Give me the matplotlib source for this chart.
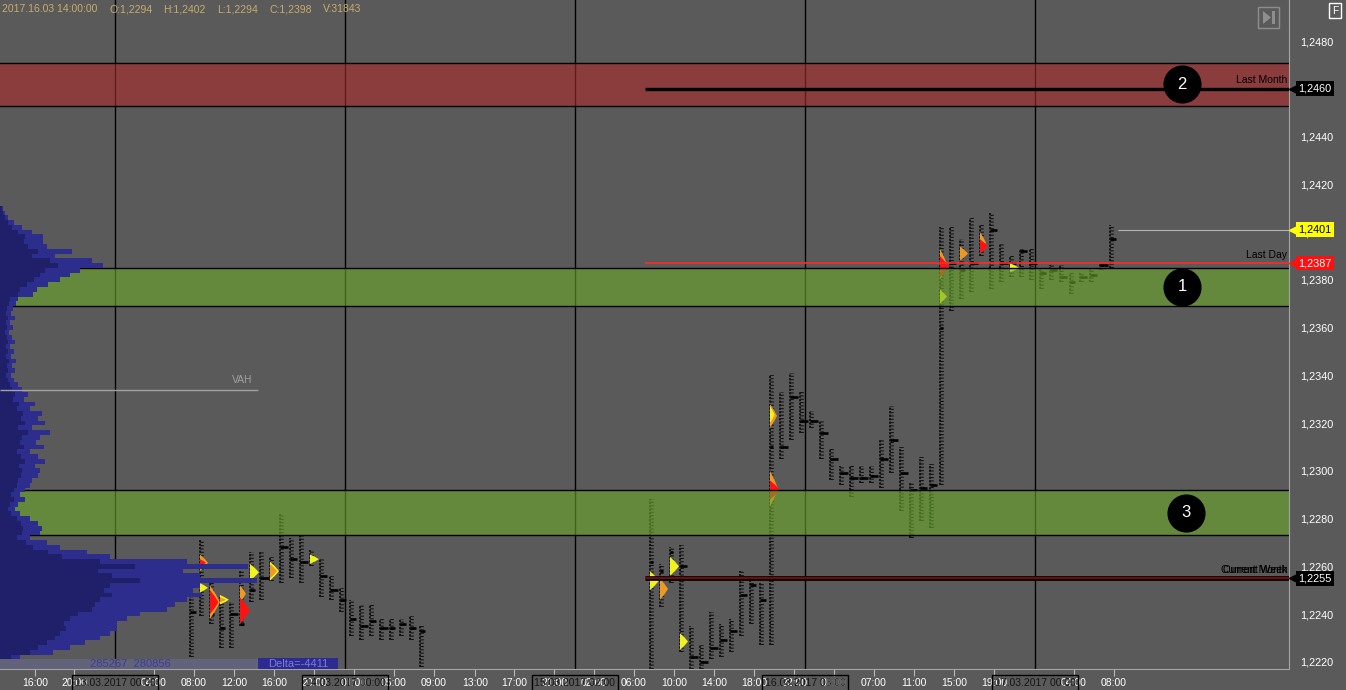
import numpy as np
import matplotlib
matplotlib.use("Agg")
import matplotlib.pyplot as plt
import matplotlib.transforms as mtransforms
from matplotlib.patches import Polygon, Rectangle
from matplotlib.ticker import FuncFormatter

plt.rcParams['font.family'] = ['Liberation Sans', 'DejaVu Sans']

W, H = 1346, 690
BG = '#5a5a5a'

# ---------------- data ----------------
header_items = ['2017.16.03 14:00:00', 'O:1,2294', 'H:1,2402', 'L:1,2294', 'C:1,2398', 'V:31843']

price_ticks = [1.2220, 1.2240, 1.2260, 1.2280, 1.2300, 1.2320, 1.2340,
               1.2360, 1.2380, 1.2400, 1.2420, 1.2440, 1.2460, 1.2480]

time_pos = [3.5, 7.4, 15.4, 19.4, 23.4, 27.4, 31.4, 35.4, 39.4, 43.4, 47.5, 51.4, 55.4,
            59.4, 63.4, 67.4, 71.4, 75.4, 79.4, 83.4, 87.4, 91.4, 95.4, 99.4, 107.4, 111.4]
time_lbl = ['16:00', '20:00', '04:00', '08:00', '12:00', '16:00', '20:00', '01:00', '05:00',
            '09:00', '13:00', '17:00', '21:00', '02:00', '06:00', '10:00', '14:00', '18:00',
            '22:00', '03:00', '07:00', '11:00', '15:00', '19:00', '04:00', '08:00']

day_pos = [11.5, 34.5, 57.5, 80.5, 103.5]
day_lbl = ['13.03.2017 00:00', '14.03.2017 00:00', '15.03.2017 02:00',
           '16.03.2017 03:00', '17.03.2017 00:00']

# footprint columns (one per hour)
fp_col = list(range(19, 43)) + list(range(65, 112))
fp_low = [1.2222, 1.2239, 1.2236, 1.2226, 1.2226, 1.2235, 1.2245, 1.2246, 1.2254, 1.2253,
          1.2255, 1.2253, 1.2260, 1.2247, 1.2246, 1.2241, 1.2231, 1.2229, 1.2231, 1.2229,
          1.2229, 1.2231, 1.2229, 1.2218,
          1.2217, 1.2243, 1.2253, 1.2224, 1.2217, 1.2217, 1.2221, 1.2222, 1.2224, 1.2231,
          1.2236, 1.2227, 1.2227, 1.2305, 1.2313, 1.2316, 1.2318, 1.2305, 1.2296, 1.2294,
          1.2289, 1.2295, 1.2295, 1.2293, 1.2299, 1.2283, 1.2272, 1.2279, 1.2276, 1.2294,
          1.2367, 1.2372, 1.2375, 1.2390, 1.2376, 1.2379, 1.2381, 1.2381, 1.2380, 1.2376,
          1.2380, 1.2379, 1.2374, 1.2379, 1.2379, 1.2384, 1.2385]
fp_high = [1.2248, 1.2271, 1.2253, 1.2247, 1.2245, 1.2258, 1.2266, 1.2266, 1.2264, 1.2282,
           1.2272, 1.2273, 1.2267, 1.2263, 1.2256, 1.2251, 1.2246, 1.2244, 1.2244, 1.2238,
           1.2238, 1.2238, 1.2239, 1.2235,
           1.2288, 1.2261, 1.2268, 1.2269, 1.2235, 1.2227, 1.2241, 1.2236, 1.2238, 1.2258,
           1.2255, 1.2253, 1.2340, 1.2333, 1.2341, 1.2333, 1.2325, 1.2321, 1.2309, 1.2302,
           1.2302, 1.2302, 1.2302, 1.2313, 1.2327, 1.2310, 1.2295, 1.2306, 1.2303, 1.2402,
           1.2402, 1.2397, 1.2406, 1.2403, 1.2408, 1.2395, 1.2390, 1.2393, 1.2393, 1.2385,
           1.2386, 1.2386, 1.2383, 1.2383, 1.2385, 1.2387, 1.2403]
fp_poc = [1.2241, 1.2262, 1.2240, 1.2234, 1.2240, 1.2236, 1.2250, 1.2255, 1.2258, 1.2268,
          1.2263, 1.2262, 1.2263, 1.2256, 1.2250, 1.2246, 1.2238, 1.2235, 1.2237, 1.2234,
          1.2234, 1.2236, 1.2234, 1.2233,
          1.2262, 1.2258, 1.2266, 1.2260, 1.2222, 1.2220, 1.2226, 1.2229, 1.2233, 1.2248,
          1.2252, 1.2246, 1.2310, 1.2310, 1.2331, 1.2321, 1.2321, 1.2316, 1.2305, 1.2299,
          1.2297, 1.2297, 1.2298, 1.2305, 1.2313, 1.2299, 1.2292, 1.2293, 1.2294, 1.2360,
          1.2387, 1.2384, 1.2387, 1.2395, 1.2401, 1.2387, 1.2387, 1.2392, 1.2387, 1.2383,
          1.2384, 1.2381, 1.2379, 1.2381, 1.2382, 1.2386, 1.2397]
fp_poc_len = [0.6, 0.4, 0.4, 0.5, 0.8, 0.4, 0.5, 0.9, 0.4, 0.8,
              0.7, 0.8, 0.4, 0.7, 0.8, 0.6, 0.6, 0.8, 0.6, 0.8,
              0.5, 0.6, 0.6, 0.5,
              0.3, 0.3, 0.3, 0.7, 0.8, 0.8, 0.8, 0.7, 0.7, 0.7,
              0.6, 0.6, 0.3, 0.8, 0.8, 0.8, 0.8, 0.8, 0.8, 0.8,
              0.8, 0.8, 0.8, 0.8, 0.8, 0.8, 0.7, 0.7, 0.7, 0.3,
              0.6, 0.5, 0.8, 0.5, 0.7, 0.8, 0.6, 0.7, 0.7, 0.6,
              0.7, 0.7, 0.5, 0.7, 0.7, 0.8, 0.6]

# high-volume clusters inside the footprints
cl_col = [20, 20, 20, 21, 21, 22, 22, 24, 24, 25, 27, 27, 31, 65, 66, 67, 68,
          77, 77, 77, 77, 94, 94, 94, 96, 98, 98, 101]
cl_lo = [1.2258, 1.2260, 1.2249, 1.2238, 1.2240, 1.2244, 1.2245, 1.2245, 1.2236, 1.2254,
         1.2254, 1.2255, 1.2261, 1.2250, 1.2246, 1.2256, 1.2225,
         1.2318, 1.2320, 1.2285, 1.2288, 1.2380, 1.2381, 1.2370, 1.2388, 1.2391, 1.2391, 1.2383]
cl_hi = [1.2265, 1.2263, 1.2253, 1.2252, 1.2250, 1.2248, 1.2247, 1.2252, 1.2247, 1.2261,
         1.2262, 1.2261, 1.2265, 1.2258, 1.2255, 1.2264, 1.2232,
         1.2328, 1.2327, 1.2300, 1.2296, 1.2393, 1.2390, 1.2376, 1.2394, 1.2400, 1.2397, 1.2387]
cl_w = [0.8, 0.6, 0.8, 1.0, 0.85, 0.9, 0.6, 0.6, 1.0, 0.9,
        0.9, 0.7, 0.9, 0.9, 0.8, 0.9, 0.8,
        0.7, 0.45, 0.8, 1.0, 0.7, 0.9, 0.7, 0.8, 0.6, 0.8, 0.9]
cl_kind = ['o', 'r', 'y', 'o', 'r', 'y', 'o', 'o', 'r', 'y',
           'y', 'o', 'y', 'y', 'o', 'y', 'y',
           'o', 'y', 'o', 'r', 'o', 'r', 'y', 'o', 'o', 'r', 'y']

# support / resistance zones
zone_lo = [1.2453, 1.2369, 1.2273]
zone_hi = [1.2471, 1.2385, 1.2292]
zone_kind = ['red', 'green', 'green']
zone_mark = ['2', '1', '3']
mark_x = [118.2, 118.2, 118.6]

# levels
level_price = [1.2460, 1.2387, 1.2255]
level_name = ['Last Month', 'Last Day', 'Current Month']
level_start = 64.5
last_price = 1.2401
last_start = 111.8

tag_price = [1.2460, 1.2401, 1.2387, 1.2255]
tag_face = ['black', '#ffff00', '#ff1010', 'black']
tag_text = ['white', 'black', 'white', 'white']

# volume profile (left side)
prof_price = np.round(np.arange(1.2410, 1.22215, -0.0002), 4)
prof_total = [3, 5, 8, 14, 22, 32, 43, 43, 47, 72,
              55, 92, 103, 80, 70, 60, 48, 37, 33, 18,
              16, 13, 11, 15, 10, 13, 9, 12, 15, 10,
              14, 11, 16, 12, 15, 11, 14, 18, 22, 28,
              24, 35, 30, 42, 38, 45, 32, 50, 40, 36,
              44, 30, 38, 45, 35, 40, 38, 32, 30, 25,
              20, 25, 18, 15, 20, 30, 38, 42, 40, 30,
              47, 60, 87, 110, 187, 248, 183, 200, 257, 200,
              193, 202, 187, 175, 167, 140, 127, 117, 117, 110,
              100, 85, 70, 53, 20]
prof_inner = [2, 3, 5, 8, 12, 18, 25, 24, 28, 38,
              32, 50, 58, 45, 40, 34, 27, 20, 18, 10,
              9, 7, 6, 8, 6, 7, 5, 7, 8, 6,
              8, 6, 9, 7, 8, 6, 8, 10, 12, 15,
              13, 19, 17, 23, 21, 25, 18, 28, 22, 20,
              24, 17, 21, 25, 19, 22, 21, 18, 17, 14,
              11, 14, 10, 8, 11, 17, 21, 23, 22, 17,
              26, 33, 48, 62, 100, 135, 98, 112, 140, 110,
              104, 112, 100, 95, 92, 78, 70, 64, 66, 60,
              55, 47, 38, 30, 11]
vah_price = 1.2334
prof_volumes = '285267  280856'
prof_delta = 'Delta=-4411'

# ---------------- figure ----------------
def fxy(x, y):
    return x / W, 1 - y / H

fig = plt.figure(figsize=(W / 100, H / 100), dpi=100, facecolor=BG)
rect = [0, 21 / H, 1289 / W, 669 / H]
ax = fig.add_axes(rect)
ax.set_facecolor(BG)
ax.set_xlim(0, 128.9)
ax.set_ylim(1.2217, 1.24972)

for s in ['top', 'left']:
    ax.spines[s].set_visible(False)
for s in ['right', 'bottom']:
    ax.spines[s].set_color('#a4a4a4')

ax.yaxis.tick_right()
ax.set_yticks(price_ticks)
ax.yaxis.set_major_formatter(FuncFormatter(lambda v, p: '{:.4f}'.format(v).replace('.', ',')))
ax.tick_params(axis='y', length=0, pad=8, labelcolor='white', labelsize=7.8)
ax.set_xticks(time_pos)
ax.set_xticklabels(time_lbl)
ax.tick_params(axis='x', length=5, color='#b8b8b8', labelcolor='white', labelsize=7.5, pad=1.5)

# day separators and date boxes
for d, lbl in zip(day_pos, day_lbl):
    ax.axvline(d, color='black', lw=1, zorder=0.5)
    ax.text(d, -0.021, lbl, transform=ax.get_xaxis_transform(), ha='center', va='center',
            fontsize=7.5, color='#151515', clip_on=False, zorder=10,
            bbox=dict(boxstyle='square,pad=0.25', fc='none', ec='black', lw=1))

# footprints: dotted price ladder, volume ticks, point of control
ax.vlines(fp_col, fp_low, fp_high, colors='black', lw=1.1, linestyles=(0, (1.4, 0.9)), zorder=1)
ax.vlines(np.array(fp_col) + 0.15, fp_low, fp_high, colors='#111111', lw=2.6,
          linestyles=(0, (0.3, 0.62)), zorder=1)
ax.hlines(fp_poc, fp_col, np.array(fp_col) + np.array(fp_poc_len), colors='black', lw=1.9, zorder=1.2)
cl_colors = {'r': '#ff1212', 'o': '#ec9a22', 'y': '#f2f21e'}
for c, lo, hi, w, k in zip(cl_col, cl_lo, cl_hi, cl_w, cl_kind):
    q = (hi - lo) / 4
    ax.add_patch(Polygon([(c, lo), (c + w * 0.55, lo + q), (c + w, lo + 2 * q),
                          (c + w * 0.55, hi - q), (c, hi)], closed=True,
                         fc=cl_colors[k], ec='none', zorder=1.5))

# zones
zone_colors = {'red': '#ac2b2b', 'green': '#6baa2b'}
for lo, hi, k, m, mx in zip(zone_lo, zone_hi, zone_kind, zone_mark, mark_x):
    ax.axhspan(lo, hi, fc=zone_colors[k], alpha=0.6, lw=0, zorder=2)
    ax.axhline(lo, color='black', lw=1, zorder=3)
    ax.axhline(hi, color='black', lw=1, zorder=3)
    ax.scatter([mx], [(lo + hi) / 2], s=700, c='black', zorder=7)
    ax.text(mx, (lo + hi) / 2, m, color='white', fontsize=12, ha='center', va='center', zorder=8)

# levels
ax.hlines(level_price[0], level_start, 128.9, color='black', lw=2.4, zorder=4)
ax.hlines(level_price[1], level_start, 128.9, color='#ff2a2a', lw=1.2, zorder=4)
ax.hlines(level_price[2], level_start, 128.9, color='black', lw=3.4, zorder=4)
ax.hlines(level_price[2], level_start, 128.9, color='#6e0c0c', lw=1.6, zorder=4)
ax.hlines(last_price, last_start, 128.9, color='#b4b4b4', lw=0.8, zorder=4)
for p, name in zip(level_price, level_name):
    ax.annotate(name, (128.7, p), xytext=(0, 2.5), textcoords='offset points', ha='right',
                va='bottom', fontsize=7.5, color='black', zorder=5)
ax.annotate('Current Week', (128.7, level_price[2]), xytext=(0, 2.5), textcoords='offset points',
            ha='right', va='bottom', fontsize=7.5, color='black', zorder=5)

# price tags on the right axis
trans = mtransforms.blended_transform_factory(ax.transAxes, ax.transData)
for p, fc, tc in zip(tag_price, tag_face, tag_text):
    ax.plot([1.0028], [p], marker='<', ms=6, color=fc, mec=fc, transform=trans, clip_on=False, zorder=11)
    ax.text(1.0072, p, '{:.4f}'.format(p).replace('.', ','), transform=trans, ha='left', va='center',
            fontsize=7.8, color=tc, clip_on=False, zorder=12,
            bbox=dict(boxstyle='square,pad=0.22', fc=fc, ec='none'))

# volume profile overlay
pax = fig.add_axes(rect, label='profile')
pax.set_xlim(0, 1289)
pax.set_ylim(ax.get_ylim())
pax.axis('off')
pax.patch.set_alpha(0)
pax.barh(prof_price, prof_total, height=0.0002, color='#2d2d8e', lw=0, zorder=1)
pax.barh(prof_price, prof_inner, height=0.0002, color='#20206a', lw=0, zorder=2)
pax.hlines(vah_price, 0, 258, color='#a0a0a0', lw=1, zorder=3)
pax.annotate('VAH', (242, vah_price), xytext=(0, 3), textcoords='offset points', ha='center',
             va='bottom', fontsize=7.5, color='#a0a0a0')
pax.add_patch(Rectangle((0, 1.2217), 258, 0.00043, fc='#646480', ec='none', alpha=0.85, zorder=4))
pax.add_patch(Rectangle((258, 1.2217), 80, 0.00045, fc='#2b2b92', ec='none', zorder=4))
pax.text(130, 1.22191, prof_volumes, ha='center', va='center', fontsize=8, color='#3c3c9c', zorder=5)
pax.text(298, 1.22192, prof_delta, ha='center', va='center', fontsize=8, color='#7c7cdc', zorder=5)

# header
hx = [2, 110, 163, 217, 269, 323]
for x, t in zip(hx, header_items):
    fig.text(*fxy(x, 9), t, ha='left', va='center', fontsize=7.5, color='#c8ac6c')

# top-right buttons
fig.text(*fxy(1335, 10.5), 'F', ha='center', va='center', fontsize=7.5, color='white',
         bbox=dict(boxstyle='square,pad=0.25', fc='none', ec='white', lw=1))
fig.add_artist(Rectangle(fxy(1258, 28), 21 / W, 21 / H, transform=fig.transFigure,
                         fill=False, ec='#8e8e8e', lw=1))
fig.add_artist(Polygon([fxy(1263, 11), fxy(1263, 24), fxy(1271, 17.5)], closed=True,
                       transform=fig.transFigure, fc='#8e8e8e', ec='none'))
fig.add_artist(Rectangle(fxy(1272, 24), 3 / W, 13 / H, transform=fig.transFigure,
                         fc='#8e8e8e', ec='none'))

fig.savefig('out.png', dpi=100, facecolor=BG)
